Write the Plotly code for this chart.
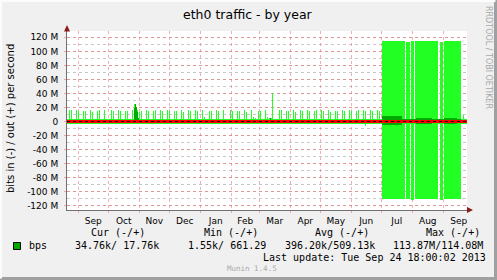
import plotly.graph_objects as go
import pandas as pd

# ---------------- data (values in Mbit/s) ----------------
# weekly backup spikes on the "out" side: first spike of each week and the one two days later
spike_week_start = "2012-08-23"
spike_first = [16, 16, 15, 16, 15, 16, 16, 16, 15, 16,
               13, 16, 15, 16, 16, 15, 16, 16, 16, 16,
               15, 16, 16, 16, 15, 16, 16, 15, 16, 41,
               16, 15, 16, 16, 16, 15, 16, 16, 15, 16,
               16, 15, 16, 16, 16]
spike_second = [16, 15, 15, 14, 16, 0, 15, 15, 15, 25,
                15, 15, 16, 15, 15, 15, 14, 15, 15, 6,
                15, 15, 0, 15, 15, 14, 7, 15, 6, 4,
                16, 15, 14, 15, 15, 16, 15, 14, 15, 15,
                15, 16, 15, 15, 15]
extra_out_dates = ["2012-10-30", "2013-01-05", "2013-02-25", "2013-02-27",
                   "2013-03-11", "2013-03-13", "2013-09-21"]
extra_out_vals = [17, 5, 5, 4, 5, 5, 10]
extra_in_dates = ["2013-06-15"]
extra_in_vals = [-6]

# averages (dark green) around single events
avg_dates = ["2012-10-27", "2012-10-28", "2012-10-29", "2012-10-30", "2012-10-31", "2013-03-12"]
avg_vals = [19, 25, 20, 14, 5, 5]

# sustained high-traffic period (max values, light green)
block_start = ["2013-07-01 06:00", "2013-07-25 18:00", "2013-07-30 06:00", "2013-08-03 18:00",
               "2013-08-20 12:00", "2013-08-21 00:00", "2013-08-28 18:00", "2013-09-01 18:00"]
block_end = ["2013-07-25 00:00", "2013-07-29 06:00", "2013-08-02 18:00", "2013-08-20 12:00",
             "2013-08-21 00:00", "2013-08-26 18:00", "2013-08-31 18:00", "2013-09-18 18:00"]
block_out = [114.5, 114, 114.5, 114.5, 59, 114.5, 114, 114.5]
block_in = [-110.5, -111, -111.5, -110.5, -56, -111, -111.5, -110.5]

# sustained period averages (dark green)
avgblk_start = ["2013-07-01 06:00", "2013-07-21 12:00", "2013-08-05 00:00", "2013-08-21 00:00",
                "2013-09-01 18:00", "2013-09-15 00:00"]
avgblk_end = ["2013-07-21 12:00", "2013-08-05 00:00", "2013-08-20 18:00", "2013-09-01 18:00",
              "2013-09-15 00:00", "2013-09-18 18:00"]
avgblk_out = [8, 3, 5.5, 3, 5.5, 3]
avgblk_in = [-4.5, -2, -3, -2.5, -3, -2]

# background level over the whole period
base_start = ["2012-08-20 18:00"]
base_end = ["2013-09-24 18:00"]
base_out = [3.5]
base_in = [-4.0]

y_ticks = [-120, -100, -80, -60, -40, -20, 0, 20, 40, 60, 80, 100, 120]
y_ticktext = ["-120 M", "-100 M", "-80 M", "-60 M", "-40 M", "-20 M", "0",
              "20 M", "40 M", "60 M", "80 M", "100 M", "120 M"]

legend_headers = ["Cur (-/+)", "Min (-/+)", "Avg (-/+)", "Max (-/+)"]
legend_values = ["34.76k/ 17.76k", "1.55k/ 661.29", "396.20k/509.13k", "113.87M/114.08M"]
series_name = "bps"
title = "eth0 traffic - by year"
ytitle = "bits in (-) / out (+) per second"
last_update = "Last update: Tue Sep 24 18:00:02 2013"
version = "Munin 1.4.5"
watermark = "RRDTOOL / TOBI OETIKER"

# ---------------- layout constants ----------------
W, H = 497, 280
PL, PR, PT, PB = 67, 467, 31, 210
LIGHT = "#22ff22"
DARK = "#00aa00"
DAY = 86400000
SPIKE_W = DAY
SHIFT = pd.Timedelta(hours=6)   # centres 1-day bars on whole pixels


def P(px, py):
    return (px - PL) / (PR - PL), (PB - py) / (PB - PT)


def seg_bars(starts, ends, vals):
    s = pd.to_datetime(starts)
    e = pd.to_datetime(ends)
    mid = s + (e - s) / 2
    width = [(b - a).total_seconds() * 1000 for a, b in zip(s, e)]
    return list(mid), vals, width


fig = go.Figure()

def add_bar(x, y, width, color):
    fig.add_trace(go.Bar(x=x, y=y, width=width, marker=dict(color=color, line=dict(width=0)),
                         showlegend=False, hoverinfo="skip"))

# background level
for v in (base_out, base_in):
    x, y, w = seg_bars(base_start, base_end, v)
    add_bar(x, y, w, LIGHT)

# sustained block
for v in (block_out, block_in):
    x, y, w = seg_bars(block_start, block_end, v)
    add_bar(x, y, w, LIGHT)

# weekly spikes
wk = pd.date_range(spike_week_start, periods=len(spike_first), freq="7D") + SHIFT
add_bar(list(wk), spike_first, [SPIKE_W] * len(wk), LIGHT)
add_bar(list(wk + pd.Timedelta(days=2)), spike_second, [SPIKE_W] * len(wk), LIGHT)
add_bar(pd.to_datetime(extra_out_dates) + SHIFT, extra_out_vals,
        [SPIKE_W] * len(extra_out_dates), LIGHT)
add_bar(pd.to_datetime(extra_in_dates) + SHIFT, extra_in_vals,
        [SPIKE_W] * len(extra_in_dates), LIGHT)

# averages
add_bar(pd.to_datetime(avg_dates) + SHIFT, avg_vals, [SPIKE_W] * len(avg_dates), DARK)
for v in (avgblk_out, avgblk_in):
    x, y, w = seg_bars(avgblk_start, avgblk_end, v)
    add_bar(x, y, w, DARK)

grid_major = "rgba(235,110,110,0.55)"

fig.update_layout(
    width=W, height=H,
    margin=dict(l=PL, r=W - PR, t=PT, b=H - PB, pad=0),
    paper_bgcolor="#f0f0f0", plot_bgcolor="#ffffff",
    barmode="overlay", bargap=0,
    showlegend=False,
    font=dict(family="DejaVu Sans", size=9, color="#000000"),
)
fig.update_xaxes(
    type="date",
    range=["2012-08-20 18:00", "2013-09-24 18:00"],
    tick0="2012-09-01", dtick="M1", tickformat="%b", ticklabelmode="period",
    showgrid=True, gridcolor=grid_major, griddash="dot", gridwidth=1,
    ticks="outside", ticklen=2, tickcolor=grid_major,
    showline=True, linecolor="#707070", linewidth=1,
    zeroline=False, tickfont=dict(family="DejaVu Sans", size=9, color="#000"),
    fixedrange=True,
)
fig.update_yaxes(
    range=[-126.1, 129.0],
    tickvals=y_ticks, ticktext=y_ticktext,
    showgrid=True, gridcolor=grid_major, griddash="dot", gridwidth=1,
    minor=dict(dtick=10, tick0=0, showgrid=True, gridcolor="#c8c8c8", griddash="dot", gridwidth=1),
    ticks="outside", ticklen=2, tickcolor=grid_major,
    showline=True, linecolor="#707070", linewidth=1,
    zeroline=False, tickfont=dict(family="DejaVu Sans", size=9, color="#000"),
    ticklabelstandoff=4,
    fixedrange=True,
)

shapes = []
# zero rule
shapes.append(dict(type="line", xref="paper", yref="y", x0=0, x1=1, y0=0, y1=0,
                   line=dict(color="#ff0000", width=3), layer="above"))
shapes.append(dict(type="line", xref="paper", yref="y", x0=0, x1=1, y0=0, y1=0,
                   line=dict(color="#300000", width=1, dash="dot"), layer="above"))
# axis arrows
ax0, ay0 = P(64, PT + 0.5)
ax1, _ = P(70, PT)
axm, aym = P(67, 25)
shapes.append(dict(type="path", xref="paper", yref="paper",
                   path=f"M {ax0} {ay0} L {ax1} {ay0} L {axm} {aym} Z",
                   fillcolor="#8b1a1a", line=dict(width=0), layer="above"))
bx0, by0 = P(467, 207)
_, by1 = P(467, 213)
bxm, bym = P(473, 210)
shapes.append(dict(type="path", xref="paper", yref="paper",
                   path=f"M {bx0} {by0} L {bx0} {by1} L {bxm} {bym} Z",
                   fillcolor="#8b1a1a", line=dict(width=0), layer="above"))
# frame (3D border)
fx0, fy0 = P(0, 0)
fx1, fy1 = P(W, H)
x_r, _ = P(495.5, 0)
_, y_b = P(0, 278.5)
x_l, _ = P(1, 0)
_, y_t = P(0, 1)
shapes.append(dict(type="line", xref="paper", yref="paper", x0=fx0, x1=fx1, y0=y_b, y1=y_b,
                   line=dict(color="#a0a0a0", width=3)))
shapes.append(dict(type="line", xref="paper", yref="paper", x0=x_r, x1=x_r, y0=fy0, y1=fy1,
                   line=dict(color="#a0a0a0", width=3)))
shapes.append(dict(type="line", xref="paper", yref="paper", x0=fx0, x1=x_r, y0=y_t, y1=y_t,
                   line=dict(color="#fcfcfc", width=2)))
shapes.append(dict(type="line", xref="paper", yref="paper", x0=x_l, x1=x_l, y0=fy0, y1=y_b,
                   line=dict(color="#fcfcfc", width=2)))
# legend swatch
sx0, sy0 = P(13.5, 242.5)
sx1, sy1 = P(20.5, 249.5)
shapes.append(dict(type="rect", xref="paper", yref="paper", x0=sx0, x1=sx1, y0=sy0, y1=sy1,
                   fillcolor=DARK, line=dict(color="#000000", width=1)))

annotations = []

def txt(text, px, py, xanchor="left", size=10, family="DejaVu Sans Mono", color="#000000", angle=0):
    x, y = P(px, py)
    annotations.append(dict(text=text, x=x, y=y, xref="paper", yref="paper", xanchor=xanchor,
                            yanchor="middle", showarrow=False, textangle=angle,
                            font=dict(family=family, size=size, color=color)))

txt(title, 248, 14, xanchor="center", size=12.5, family="DejaVu Sans")
txt(ytitle, 10, 119, xanchor="center", size=10, family="DejaVu Sans", angle=-90)
txt(watermark, 488, 57, xanchor="center", size=8, family="DejaVu Sans", color="#a8a8a8", angle=90)

hdr_x = [89, 202, 313, 424]
val_x = [73, 186, 283, 391]
for h, x in zip(legend_headers, hdr_x):
    txt(h, x, 232.5)
txt(series_name, 27, 245.5)
for v, x in zip(legend_values, val_x):
    txt(v, x, 245.5)
txt(last_update, 261, 257)
txt(version, 225, 268.5, size=7.5, color="#aaaaaa")

fig.update_layout(shapes=shapes, annotations=annotations)
fig.write_html("out.html")
